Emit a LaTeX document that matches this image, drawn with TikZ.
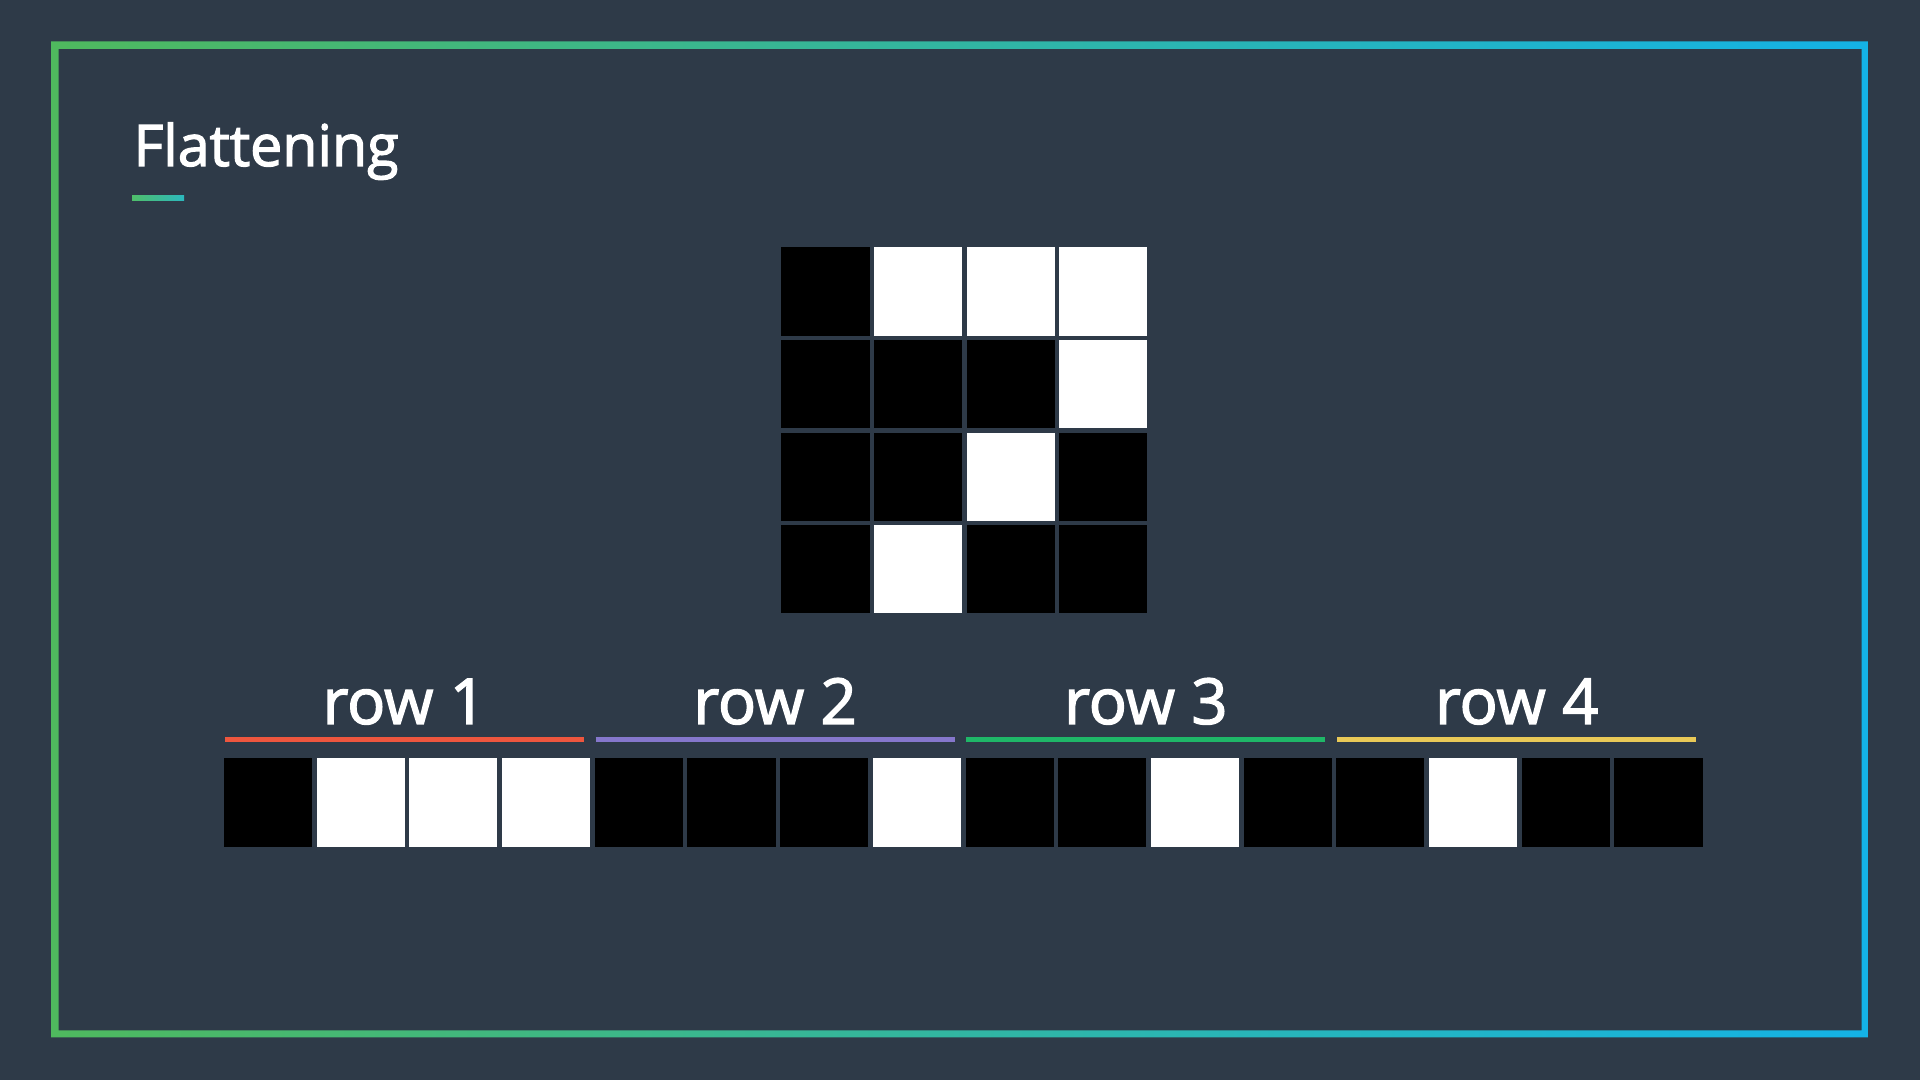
\documentclass[tikz,border=0pt]{standalone}
\usepackage{fontspec}
\setmainfont{Open Sans}
\newfontfamily\semifont{Open Sans}[RawFeature={embolden=2.2}]
\usetikzlibrary{positioning}
\definecolor{slate}{HTML}{2E3A48}
\definecolor{frameL}{HTML}{4FB95E}
\definecolor{frameR}{HTML}{14B2E6}
\definecolor{barL}{HTML}{4FBE6A}
\definecolor{barR}{HTML}{2CB8BE}
\definecolor{rowred}{HTML}{EE563E}
\definecolor{rowpurple}{HTML}{8577CC}
\definecolor{rowgreen}{HTML}{1FB768}
\definecolor{rowyellow}{HTML}{E9C957}
\tikzset{
  cell/.style={inner sep=0pt,minimum size=0.88cm},
  cell0/.style={cell,fill=black},
  cell1/.style={cell,fill=white},
  rowline/.style={line width=0.045cm},
  rowlabel/.style={inner sep=0pt,text=white,font=\semifont\fontsize{18}{20}\selectfont},
}

\begin{document}
\begin{tikzpicture}[x=0.01cm,y=-0.01cm]
\fill[slate] (0,0) rectangle (1920,1080);
\useasboundingbox (0,0) rectangle (1920,1080);
% frame
\shade[left color=frameL,right color=frameR,even odd rule]
  (51,41.5) rectangle (1868.5,1037.5) (58.5,49) rectangle (1861.5,1030.5);
\node[inner sep=0pt,anchor=base west,text=white,font=\semifont\fontsize{16.3}{20}\selectfont] (title) at (133,166) {Flattening};
\shade[left color=barL,right color=barR] ([shift={(-1,29.5)}]title.base west) rectangle ([shift={(51,34.5)}]title.base west);
% grid and flattened row
\foreach \bits [count=\r from 0] in {{0,1,1,1},{0,0,0,1},{0,0,1,0},{0,1,0,0}} {
  \foreach \b [count=\c from 0] in \bits {
    \node[cell\b] (g-\r-\c) at ({825.5+92.6*\c},{291.5+92.6*\r}) {};
    \node[cell\b] (f-\r-\c) at ({268+92.7*(4*\r+\c)},802.5) {};
  }
}
\foreach \name/\col [count=\g from 0] in {row 1/rowred,row 2/rowpurple,row 3/rowgreen,row 4/rowyellow} {
  \draw[rowline,\col] ([shift={(1.5,-18.5)}]f-\g-0.north west) coordinate (ua-\g)
    -- ([shift={(-7,-18.5)}]f-\g-3.north east) coordinate (ub-\g);
  \path (ua-\g) -- (ub-\g) coordinate[midway] (um-\g);
  \node[rowlabel,above=0.14cm of um-\g] (lab-\g) {\name};
}
\end{tikzpicture}
\end{document}
